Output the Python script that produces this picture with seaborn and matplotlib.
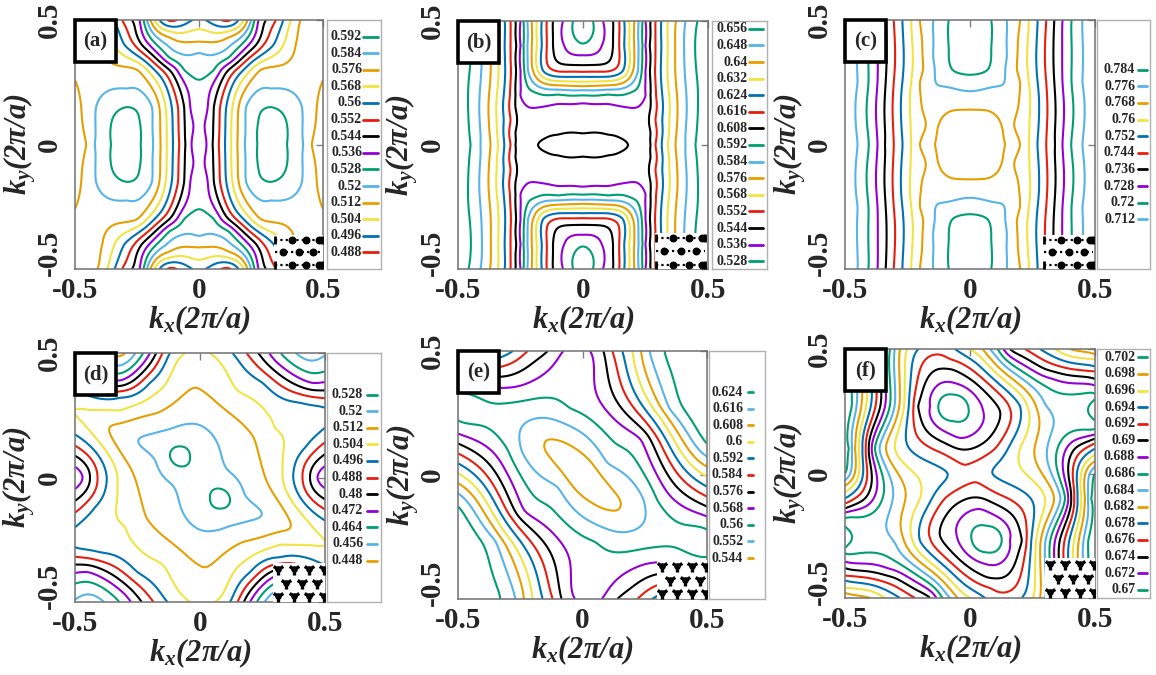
import numpy as np
import matplotlib
matplotlib.use("Agg")
import matplotlib.pyplot as plt
from matplotlib.patches import Rectangle
from matplotlib.transforms import ScaledTranslation
import seaborn as sns

sns.set_theme(style="white")
plt.rcParams["font.family"] = ["Liberation Serif", "DejaVu Serif"]
plt.rcParams["font.weight"] = "bold"
plt.rcParams["mathtext.fontset"] = "custom"
plt.rcParams["mathtext.rm"] = "Liberation Serif:italic:bold"
plt.rcParams["mathtext.it"] = "Liberation Serif:italic:bold"
plt.rcParams["mathtext.bf"] = "Liberation Serif:italic:bold"

# gnuplot line colours, in the order they run down the key
palette = sns.color_palette(["#009e73", "#56b4e9", "#e69f00", "#f0e442",
                             "#0072b2", "#e51e10", "#000000", "#9400d3"])

ticks = [-0.5, 0, 0.5]
tick_text = ["-0.5", "0", "0.5"]

# contour levels drawn in each panel (highest first) and the levels in its key
lev_a = [0.592, 0.584, 0.576, 0.568, 0.56, 0.552, 0.544, 0.536, 0.528, 0.52, 0.512, 0.504, 0.496, 0.488]
key_a = lev_a
lev_b = [0.656, 0.648, 0.64, 0.632, 0.624, 0.616, 0.608, 0.6, 0.592, 0.584, 0.576, 0.568, 0.56,
         0.552, 0.544, 0.536, 0.528]
key_b = [0.656, 0.648, 0.64, 0.632, 0.624, 0.616, 0.608, 0.592, 0.584, 0.576, 0.568, 0.552,
         0.544, 0.536, 0.528]
lev_c = [0.784, 0.776, 0.768, 0.76, 0.752, 0.744, 0.736, 0.728, 0.72, 0.712]
key_c = lev_c
lev_d = [0.528, 0.52, 0.512, 0.504, 0.496, 0.488, 0.48, 0.472, 0.464, 0.456, 0.448]
key_d = lev_d
lev_e = [0.624, 0.616, 0.608, 0.6, 0.592, 0.584, 0.576, 0.568, 0.56, 0.552, 0.544]
key_e = lev_e
lev_f = [0.702, 0.7, 0.698, 0.696, 0.694, 0.692, 0.69, 0.688, 0.686, 0.684, 0.682, 0.68,
         0.678, 0.676, 0.674, 0.672, 0.67]
key_f = [0.702, 0.698, 0.696, 0.694, 0.692, 0.69, 0.688, 0.686, 0.684, 0.682, 0.678, 0.676,
         0.674, 0.672, 0.67]

# energies (kx, ky, E); (a)-(c) one quadrant, (d)-(f) half plane
pts_a = [
    (0.0, 0.0, 0.531), (0.03, 0.0, 0.536), (0.055, 0.0, 0.544), (0.08, 0.0, 0.552),
    (0.105, 0.0, 0.56), (0.13, 0.0, 0.568), (0.155, 0.0, 0.576), (0.185, 0.0, 0.584),
    (0.235, 0.0, 0.592), (0.29, 0.0, 0.597), (0.355, 0.0, 0.592), (0.42, 0.0, 0.584),
    (0.455, 0.0, 0.576), (0.5, 0.0, 0.571),
    (0.0, 0.15, 0.53), (0.035, 0.15, 0.536), (0.06, 0.15, 0.544), (0.085, 0.15, 0.552),
    (0.11, 0.15, 0.56), (0.135, 0.15, 0.568), (0.16, 0.15, 0.576), (0.19, 0.15, 0.584),
    (0.29, 0.15, 0.592), (0.415, 0.15, 0.584), (0.5, 0.15, 0.573),
    (0.29, 0.225, 0.584), (0.24, 0.1, 0.592), (0.35, 0.1, 0.592),
    (0.0, 0.3, 0.525), (0.06, 0.3, 0.528), (0.09, 0.3, 0.536), (0.12, 0.3, 0.544),
    (0.15, 0.3, 0.552), (0.18, 0.3, 0.56), (0.21, 0.3, 0.568), (0.25, 0.3, 0.576),
    (0.35, 0.3, 0.578), (0.5, 0.3, 0.577),
    (0.0, 0.4, 0.514), (0.13, 0.4, 0.52), (0.17, 0.4, 0.528), (0.2, 0.4, 0.536),
    (0.23, 0.4, 0.544), (0.26, 0.4, 0.552), (0.3, 0.4, 0.56), (0.34, 0.4, 0.568),
    (0.39, 0.4, 0.576), (0.5, 0.4, 0.579),
    (0.0, 0.26, 0.528), (0.0, 0.367, 0.52), (0.0, 0.413, 0.512), (0.0, 0.463, 0.504),
    (0.0, 0.5, 0.498),
    (0.12, 0.35, 0.528), (0.12, 0.43, 0.512), (0.12, 0.455, 0.504), (0.12, 0.475, 0.496),
    (0.12, 0.5, 0.487),
    (0.18, 0.5, 0.504), (0.21, 0.5, 0.52), (0.24, 0.5, 0.536), (0.27, 0.5, 0.544),
    (0.31, 0.5, 0.552), (0.34, 0.5, 0.56), (0.37, 0.5, 0.568), (0.41, 0.5, 0.576),
    (0.5, 0.5, 0.58),
]
pts_b = [
    (0.0, 0.0, 0.612), (0.1, 0.0, 0.611), (0.18, 0.0, 0.608), (0.22, 0.0, 0.605),
    (0.27, 0.0, 0.608), (0.29, 0.0, 0.616), (0.315, 0.0, 0.624), (0.34, 0.0, 0.632),
    (0.37, 0.0, 0.64), (0.41, 0.0, 0.648), (0.45, 0.0, 0.656), (0.5, 0.0, 0.662),
    (0.27, 0.25, 0.608), (0.29, 0.25, 0.616), (0.34, 0.25, 0.632), (0.41, 0.25, 0.648),
    (0.5, 0.25, 0.662),
    (0.27, 0.5, 0.608), (0.29, 0.5, 0.616), (0.34, 0.5, 0.632), (0.41, 0.5, 0.648),
    (0.5, 0.5, 0.662),
    (0.27, 0.05, 0.608), (0.27, 0.15, 0.608), (0.27, 0.2, 0.608), (0.27, 0.35, 0.608),
    (0.27, 0.45, 0.608), (0.29, 0.1, 0.616), (0.29, 0.4, 0.616),
    (0.0, 0.047, 0.608), (0.0, 0.1, 0.604), (0.0, 0.168, 0.6), (0.0, 0.2, 0.592),
    (0.0, 0.221, 0.584), (0.0, 0.237, 0.576), (0.0, 0.255, 0.568), (0.0, 0.275, 0.56),
    (0.0, 0.295, 0.552), (0.0, 0.322, 0.544), (0.0, 0.362, 0.536), (0.0, 0.409, 0.528),
    (0.0, 0.45, 0.525), (0.0, 0.5, 0.522),
    (0.04, 0.5, 0.528), (0.08, 0.5, 0.536), (0.12, 0.5, 0.544), (0.145, 0.5, 0.552),
    (0.165, 0.5, 0.56), (0.185, 0.5, 0.568), (0.205, 0.5, 0.576), (0.222, 0.5, 0.584),
    (0.238, 0.5, 0.592), (0.25, 0.5, 0.6),
    (0.075, 0.4, 0.536), (0.12, 0.4, 0.544), (0.145, 0.4, 0.552), (0.165, 0.4, 0.56),
    (0.185, 0.4, 0.568), (0.205, 0.4, 0.576), (0.222, 0.4, 0.584), (0.238, 0.4, 0.592),
    (0.25, 0.4, 0.6),
    (0.1, 0.3, 0.551), (0.16, 0.3, 0.56), (0.18, 0.3, 0.568), (0.2, 0.3, 0.576),
    (0.22, 0.3, 0.584), (0.235, 0.3, 0.592), (0.25, 0.3, 0.6),
    (0.1, 0.2, 0.593), (0.2, 0.2, 0.595), (0.25, 0.2, 0.6),
    (0.1, 0.1, 0.604), (0.2, 0.1, 0.603), (0.25, 0.1, 0.605),
    (0.1, 0.042, 0.608), (0.15, 0.028, 0.608),
]
pts_c = [
    (0.0, 0.0, 0.764), (0.14, 0.0, 0.768), (0.17, 0.0, 0.77), (0.2, 0.0, 0.768),
    (0.235, 0.0, 0.76), (0.27, 0.0, 0.752), (0.305, 0.0, 0.744), (0.34, 0.0, 0.736),
    (0.37, 0.0, 0.728), (0.405, 0.0, 0.72), (0.45, 0.0, 0.712), (0.5, 0.0, 0.706),
    (0.2, 0.25, 0.768), (0.235, 0.25, 0.76), (0.305, 0.25, 0.744), (0.37, 0.25, 0.728),
    (0.45, 0.25, 0.712), (0.5, 0.25, 0.706),
    (0.2, 0.5, 0.768), (0.235, 0.5, 0.76), (0.305, 0.5, 0.744), (0.37, 0.5, 0.728),
    (0.45, 0.5, 0.712), (0.5, 0.5, 0.706),
    (0.0, 0.14, 0.768), (0.0, 0.214, 0.776), (0.0, 0.28, 0.784), (0.0, 0.38, 0.788),
    (0.0, 0.5, 0.79),
    (0.147, 0.5, 0.776), (0.147, 0.35, 0.776), (0.085, 0.5, 0.784), (0.085, 0.38, 0.784),
    (0.13, 0.24, 0.776), (0.07, 0.3, 0.784),
    (0.11, 0.11, 0.768), (0.17, 0.15, 0.77), (0.17, 0.3, 0.771), (0.1, 0.2, 0.772),
    (0.17, 0.42, 0.772),
]
pts_d = [
    (-0.08, 0.085, 0.531), (0.0, 0.0, 0.525),
    (-0.08, 0.125, 0.528), (-0.04, 0.085, 0.528), (-0.12, 0.085, 0.528), (-0.08, 0.045, 0.528),
    (-0.247, 0.149, 0.52), (0.0, 0.21, 0.52), (0.11, 0.031, 0.52), (-0.12, 0.195, 0.52),
    (0.18, -0.07, 0.52),
    (0.007, 0.35, 0.512), (-0.36, 0.203, 0.512), (0.213, 0.163, 0.512), (-0.17, 0.26, 0.512),
    (-0.06, 0.5, 0.504), (0.04, 0.5, 0.504), (0.0, 0.5, 0.507), (0.15, 0.35, 0.504),
    (0.3, 0.2, 0.504), (0.33, 0.03, 0.504), (-0.15, 0.36, 0.504), (-0.32, 0.27, 0.504),
    (-0.5, 0.27, 0.504),
    (-0.32, 0.5, 0.446), (-0.12, 0.5, 0.496), (-0.2, 0.38, 0.496), (-0.32, 0.32, 0.496),
    (-0.45, 0.33, 0.496), (-0.5, 0.35, 0.496), (-0.32, 0.39, 0.472), (-0.2, 0.5, 0.472),
    (-0.45, 0.45, 0.472),
    (0.45, 0.5, 0.452), (0.13, 0.5, 0.496), (0.25, 0.38, 0.496), (0.4, 0.3, 0.496),
    (0.5, 0.28, 0.496), (0.3, 0.47, 0.472), (0.45, 0.38, 0.472),
    (0.5, 0.0, 0.468), (0.5, 0.2, 0.496), (0.373, 0.0, 0.496), (0.42, 0.12, 0.496),
    (0.41, 0.0, 0.488), (0.44, 0.0, 0.48), (0.47, 0.0, 0.472), (0.5, 0.24, 0.5),
    (0.5, 0.5, 0.455), (-0.5, 0.5, 0.47),
]
pts_e = [
    (0.0, 0.0, 0.538),
    (-0.141, 0.141, 0.544), (0.042, 0.042, 0.544), (-0.07, 0.13, 0.544), (-0.13, 0.07, 0.544),
    (-0.25, 0.18, 0.552), (-0.044, 0.194, 0.552), (0.1, 0.05, 0.552), (0.245, -0.1, 0.552),
    (-0.05, 0.27, 0.56), (-0.3, 0.29, 0.56), (0.13, 0.13, 0.56), (0.3, -0.1, 0.56),
    (-0.5, 0.33, 0.56), (-0.4, 0.25, 0.558), (-0.5, 0.22, 0.56), (-0.02, 0.5, 0.565),
    (0.03, 0.5, 0.568), (0.232, 0.144, 0.568), (0.5, -0.167, 0.568),
    (0.084, 0.5, 0.576), (0.259, 0.164, 0.576), (0.5, -0.127, 0.576),
    (0.12, 0.5, 0.584), (0.277, 0.184, 0.584), (0.5, -0.087, 0.584),
    (0.16, 0.5, 0.592), (0.297, 0.204, 0.592), (0.5, -0.047, 0.592),
    (0.2, 0.5, 0.6), (0.317, 0.224, 0.6), (0.5, -0.007, 0.6),
    (0.235, 0.5, 0.608), (0.334, 0.244, 0.608), (0.5, 0.033, 0.608),
    (0.27, 0.5, 0.616), (0.352, 0.264, 0.616), (0.5, 0.074, 0.616),
    (0.33, 0.5, 0.624), (0.39, 0.3, 0.624), (0.5, 0.127, 0.624),
    (0.5, 0.35, 0.63), (0.5, 0.5, 0.627), (0.45, 0.45, 0.628),
    (-0.077, 0.5, 0.568), (-0.14, 0.5, 0.576), (-0.22, 0.5, 0.584), (-0.28, 0.5, 0.592),
    (-0.36, 0.5, 0.6), (-0.5, 0.5, 0.61),
    (-0.5, 0.36, 0.568), (-0.5, 0.39, 0.576), (-0.5, 0.42, 0.584), (-0.5, 0.45, 0.592),
    (-0.5, 0.48, 0.6), (-0.25, 0.36, 0.568), (-0.3, 0.4, 0.576),
]
pts_f = [
    (-0.067, 0.268, 0.668),
    (-0.127, 0.268, 0.67), (-0.007, 0.268, 0.67), (-0.067, 0.317, 0.67), (-0.067, 0.21, 0.67),
    (-0.16, 0.27, 0.672), (0.053, 0.25, 0.672), (-0.06, 0.363, 0.672), (-0.04, 0.143, 0.672),
    (-0.207, 0.27, 0.674), (0.12, 0.25, 0.674), (-0.07, 0.417, 0.674), (-0.02, 0.096, 0.674),
    (-0.226, 0.27, 0.676), (0.16, 0.26, 0.676), (-0.08, 0.46, 0.676), (-0.02, 0.035, 0.676),
    (0.0, 0.0, 0.677),
    (-0.245, 0.27, 0.678), (0.2, 0.27, 0.678), (0.09, 0.0, 0.678), (-0.1, 0.5, 0.677),
    (-0.264, 0.27, 0.68), (0.227, 0.276, 0.68), (0.0, 0.5, 0.68),
    (-0.283, 0.27, 0.682), (0.26, 0.28, 0.682), (0.05, 0.5, 0.682), (-0.28, 0.5, 0.682),
    (-0.302, 0.27, 0.684), (0.3, 0.28, 0.684), (0.08, 0.5, 0.684), (0.5, 0.25, 0.687),
    (-0.321, 0.27, 0.686), (-0.34, 0.27, 0.688), (-0.359, 0.27, 0.69), (-0.378, 0.27, 0.692),
    (-0.397, 0.27, 0.694), (-0.416, 0.27, 0.696), (-0.435, 0.27, 0.698), (-0.454, 0.27, 0.7),
    (-0.473, 0.27, 0.702), (-0.5, 0.27, 0.704),
    (-0.32, 0.5, 0.686), (-0.36, 0.5, 0.69), (-0.4, 0.5, 0.694), (-0.44, 0.5, 0.698),
    (-0.47, 0.5, 0.702), (-0.5, 0.5, 0.704),
    (-0.38, 0.1, 0.686), (-0.405, 0.1, 0.69), (-0.43, 0.1, 0.694), (-0.46, 0.1, 0.698),
    (-0.485, 0.1, 0.702), (-0.5, 0.1, 0.703),
    (-0.3, 0.1, 0.68), (-0.2, 0.1, 0.677), (-0.1, 0.1, 0.675),
    (-0.5, 0.0, 0.702), (-0.5, -0.05, 0.698), (-0.5, -0.1, 0.694), (-0.5, -0.14, 0.69),
    (-0.5, -0.18, 0.686),
    (0.11, 0.5, 0.686), (0.16, 0.5, 0.69), (0.22, 0.5, 0.692), (0.28, 0.5, 0.694),
    (0.34, 0.5, 0.696), (0.4, 0.5, 0.698), (0.5, 0.5, 0.699),
    (0.5, 0.32, 0.686), (0.5, 0.38, 0.69), (0.5, 0.41, 0.692), (0.5, 0.43, 0.694),
    (0.5, 0.46, 0.696), (0.5, 0.48, 0.698), (0.33, 0.38, 0.688), (0.3, 0.42, 0.69),
    (0.35, 0.1, 0.686), (0.42, 0.1, 0.69), (0.2, 0.1, 0.68), (0.1, 0.1, 0.676),
]

W, H = 1156, 675
fig = plt.figure(figsize=(W / 100, H / 100), dpi=100)


def frac(box):
    l, t, r, b = box
    return [l / W, 1 - b / H, (r - l) / W, (b - t) / H]


def tps(r):
    with np.errstate(divide="ignore", invalid="ignore"):
        v = r ** 2 * np.log(r)
    return np.nan_to_num(v)


def surface(points, mirror):
    # smooth (thin-plate) surface through the read-off energies
    p = np.array(points, dtype=float)
    copies = [p, p * [-1, -1, 1]]
    if mirror:
        copies += [p * [-1, 1, 1], p * [1, -1, 1]]
    p = np.unique(np.round(np.vstack(copies), 4), axis=0)
    x, y, z = p.T
    n = len(z)
    K = tps(np.hypot(x[:, None] - x, y[:, None] - y)) + 1e-7 * np.eye(n)
    P = np.column_stack([np.ones(n), x, y])
    A = np.block([[K, P], [P.T, np.zeros((3, 3))]])
    sol = np.linalg.lstsq(A, np.r_[z, 0, 0, 0], rcond=None)[0]
    g = np.linspace(-0.5, 0.5, 241)
    gx, gy = np.meshgrid(g, g)
    r = np.hypot(gx.ravel()[:, None] - x, gy.ravel()[:, None] - y)
    zz = tps(r) @ sol[:n] + sol[n] + sol[n + 1] * gx.ravel() + sol[n + 2] * gy.ravel()
    return gx, gy, zz.reshape(gx.shape)


def level_colour(v, levels):
    step = levels[0] - levels[1]
    return palette[int(round((levels[0] - v) / step)) % 8]


def blank_inset(box):
    iax = fig.add_axes(frac(box), zorder=5)
    iax.set_xlim(0, 1)
    iax.set_ylim(0, 1)
    iax.set_xticks([])
    iax.set_yticks([])
    iax.set_facecolor("white")
    for s in iax.spines.values():
        s.set_visible(False)
    return iax


def chain_inset(box):
    iax = blank_inset(box)
    for y, dots, ends in [(0.85, [0.36, 0.66, 0.92], True), (0.5, [0.18, 0.5, 0.8], False),
                          (0.12, [0.36, 0.66, 0.92], True)]:
        iax.plot([0.02, 0.98], [y, y], color="black", lw=1.6, ls=(0, (1, 1.4)))
        iax.scatter(dots, [y] * len(dots), s=22, color="black", zorder=3)
        if ends:
            iax.scatter([0.02, 0.98], [y, y], marker="|", s=40, color="black", lw=2)


def trimer_inset(box):
    iax = blank_inset(box)
    for y, xs in [(0.84, [0.1, 0.4, 0.7, 0.98]), (0.5, [0.25, 0.55, 0.85]),
                  (0.16, [0.1, 0.4, 0.7, 0.98])]:
        iax.scatter(xs, [y] * len(xs), marker="1", s=75, color="black", lw=2.4)
        iax.scatter(xs, [y] * len(xs), marker="o", s=14, color="black")


panels = [
    dict(tag="(a)", pts=pts_a, mirror=True, lev=lev_a, key=key_a, box=(75, 20, 323, 269),
         keyx=(327, 381), tx=0.65, line=(0.67, 0.94), inset=chain_inset, ibox=(274, 235, 323, 269)),
    dict(tag="(b)", pts=pts_b, mirror=True, lev=lev_b, key=key_b, box=(458, 21, 708, 269),
         keyx=(712, 767), tx=0.65, line=(0.67, 0.92), inset=chain_inset, ibox=(655, 233, 706, 269)),
    dict(tag="(c)", pts=pts_c, mirror=True, lev=lev_c, key=key_c, box=(845, 20, 1095, 269),
         keyx=(1097, 1150), tx=0.72, line=(0.77, 0.95), inset=chain_inset, ibox=(1043, 235, 1094, 269)),
    dict(tag="(d)", pts=pts_d, mirror=False, lev=lev_d, key=key_d, box=(75, 353, 325, 602),
         keyx=(327, 381), tx=0.67, line=(0.74, 0.93), inset=trimer_inset, ibox=(273, 563, 325, 602)),
    dict(tag="(e)", pts=pts_e, mirror=False, lev=lev_e, key=key_e, box=(458, 351, 707, 599),
         keyx=(709, 765), tx=0.61, line=(0.69, 0.79), inset=trimer_inset, ibox=(657, 560, 707, 599)),
    dict(tag="(f)", pts=pts_f, mirror=False, lev=lev_f, key=key_f, box=(845, 349, 1095, 598),
         keyx=(1097, 1150), tx=0.72, line=(0.77, 0.95), inset=trimer_inset, ibox=(1045, 558, 1095, 598)),
]

for p in panels:
    l, t, r, b = p["box"]
    ax = fig.add_axes(frac(p["box"]))
    gx, gy, zz = surface(p["pts"], p["mirror"])
    order = sorted(p["lev"])
    ax.contour(gx, gy, zz, levels=order, colors=[level_colour(v, p["lev"]) for v in order],
               linewidths=1.5)
    ax.set_xlim(-0.5, 0.5)
    ax.set_ylim(-0.5, 0.5)
    ax.set_xticks(ticks)
    ax.set_xticklabels(tick_text, fontsize=21, fontweight="bold")
    ax.set_yticks(ticks)
    ax.set_yticklabels([])
    # vertical y tick labels, the lowest one lifted clear of the x labels
    for v, s in zip(ticks, tick_text):
        lift = 0.16 if v == -0.5 else 0
        ax.text(0, v, s, transform=ax.get_yaxis_transform()
                + ScaledTranslation(-0.12, lift, fig.dpi_scale_trans),
                rotation=90, ha="right", va="center", fontsize=21, fontweight="bold")
    ax.tick_params(direction="in", length=5, width=1, color="#808080", top=True, right=True)
    ax.tick_params(axis="x", pad=6)
    ax.set_xlabel(r"$k_x(2\pi/a)$", fontsize=22, labelpad=-1)
    ax.set_ylabel(r"$k_y(2\pi/a)$", fontsize=22)
    ax.yaxis.set_label_coords(-0.15, 0.5)
    for s in ax.spines.values():
        s.set_color("#707070")
        s.set_linewidth(1.1)

    # panel tag in a black box
    bw, bh = 41 / (r - l), 42 / (b - t)
    ax.add_patch(Rectangle((0, 1 - bh), bw, bh, transform=ax.transAxes, fc="white",
                           ec="black", lw=2.6, zorder=6, clip_on=False))
    ax.text(bw / 2, 1 - bh / 2, p["tag"], transform=ax.transAxes, ha="center", va="center",
            fontsize=15, fontweight="bold", zorder=7)

    p["inset"](p["ibox"])

    # key box to the right of the panel
    kl, kr = p["keyx"]
    kax = fig.add_axes(frac((kl, t, kr, b)))
    kax.set_xlim(0, 1)
    kax.set_ylim(0, 1)
    kax.set_xticks([])
    kax.set_yticks([])
    for s in kax.spines.values():
        s.set_color("#b0b0b0")
        s.set_linewidth(1.0)
    step = 16.6 / (b - t)
    n = len(p["key"])
    for i, v in enumerate(p["key"]):
        y = 0.5 + (n - 1) / 2 * step - i * step
        kax.text(p["tx"], y, f"{v:g}", ha="right", va="center", fontsize=10, fontweight="bold")
        kax.plot(p["line"], [y, y], color=level_colour(v, p["lev"]), lw=2)

fig.savefig("out.png", dpi=100, facecolor="white")
